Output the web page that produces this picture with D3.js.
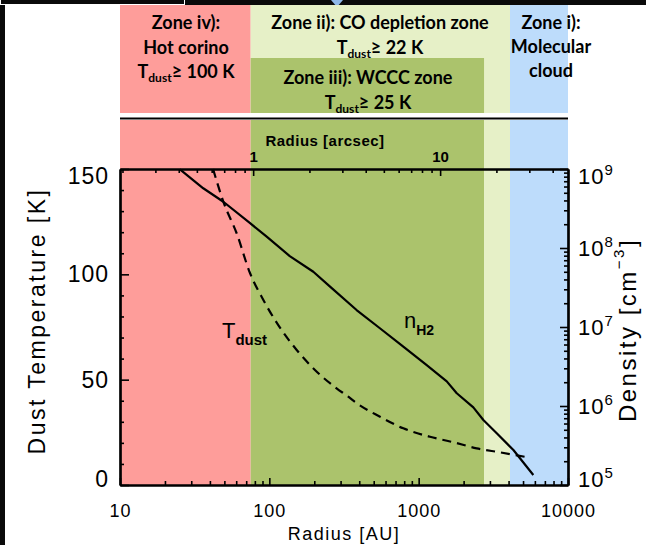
<!DOCTYPE html>
<html>
<head>
<meta charset="utf-8">
<script src="https://cdn.jsdelivr.net/npm/d3@7"></script>
<style>
    body { margin: 0; background: #fff; }
    svg { display: block; }
    .zone-txt { font-family: Lato, "Open Sans", sans-serif; font-weight: 700; font-size: 18px; fill: #000; }
    .ax text { font-family: "Liberation Sans", Arial, sans-serif; fill: #000; }
</style>
</head>
<body>
<svg id="chart" width="646" height="545"></svg>
<script>

// radius in AU where the zones change (plot edge, iv|iii, iii|ii, ii|i, plot edge)
var zoneEdges = [10, 75, 2740, 4090, 10000]

// density profile n_H2 [cm^-3]
var radiusN = [25.2, 36.1, 49.2, 74.3, 96, 137, 197, 255, 384, 550, 789, 1132, 1542, 1799, 2323, 2711, 3333, 4309, 5858]
var densityN = [9.9e8, 5.7e8, 3.85e8, 2.06e8, 1.39e8, 7.9e7, 5.01e7, 3.24e7, 1.64e7, 9.64e6, 5.64e6, 3.30e6, 2.05e6, 1.45e6, 9.6e5, 6.65e5, 4.51e5, 2.77e5, 1.34e5]

// dust temperature profile [K]
var radiusT = [42, 49.2, 60.4, 74.3, 91.2, 114.8, 152.5, 202, 282, 338, 385, 551, 789, 1191, 1706, 2447, 3508, 5420]
var tempT = [150, 134.5, 119.5, 100.5, 87.8, 75.9, 64.1, 54.6, 45.9, 41.9, 38.8, 32.4, 26.9, 22.9, 20.3, 17.4, 15.5, 13.1]

var xDomain = [10, 10000]
var tDomain = [0, 150]
var nDomain = [1e5, 1e9]
var arcsecDomain = [0.194, 48.3]

var xMajor = [10, 100, 1000, 10000]
var tMajor = [0, 50, 100, 150]
var arcsecMajor = [1, 10]

var zoneLabels = {
    iv: ["Zone iv):", "Hot corino", ["100 K"]],
    ii: ["Zone ii): CO depletion zone", ["22 K"]],
    iii: ["Zone iii): WCCC zone", ["25 K"]],
    i: ["Zone i):", "Molecular", "cloud"]
}

var svg = d3.select("#chart")

// plot box (note: "top" is reserved on window, so use p* names)
var pL = 120, pR = 568, pT = 169, pB = 485

var x = d3.scaleLog().domain(xDomain).range([pL, pR])
var xTop = d3.scaleLog().domain(arcsecDomain).range([pL, pR])
var yT = d3.scaleLinear().domain(tDomain).range([pB, pT])
var yN = d3.scaleLog().domain(nDomain).range([pB, pT])

var red = "#fe9d9a", green = "#abc36c", pale = "#e6f0c7", blue = "#bddcfb"

// screen frame bits at the edge of the picture
svg.append("rect").attr("x", 0).attr("y", 0).attr("width", 646).attr("height", 5).attr("fill", "#0a0a0a")
svg.append("rect").attr("x", 0).attr("y", 0).attr("width", 5).attr("height", 545).attr("fill", "#0a0a0a")
svg.append("rect").attr("x", 0.5).attr("y", -1).attr("width", 184).attr("height", 5.5)
    .attr("fill", "none").attr("stroke", "#fff").attr("stroke-width", 1)
svg.append("path").attr("d", "M331,0 L343,0 L337,7 Z").attr("fill", "#8fb8e8")

// top panel with zone labels
function drawZonePanel() {
    var g = svg.append("g")
    var y0 = 5, y1 = 113, yMid = 58

    g.append("rect").attr("x", x(zoneEdges[0])).attr("y", y0)
        .attr("width", x(zoneEdges[1]) - x(zoneEdges[0])).attr("height", y1 - y0).attr("fill", red)
    g.append("rect").attr("x", x(zoneEdges[1])).attr("y", y0)
        .attr("width", x(zoneEdges[3]) - x(zoneEdges[1])).attr("height", y1 - y0).attr("fill", pale)
    g.append("rect").attr("x", x(zoneEdges[1])).attr("y", yMid)
        .attr("width", x(zoneEdges[2]) - x(zoneEdges[1])).attr("height", y1 - yMid).attr("fill", green)
    g.append("rect").attr("x", x(zoneEdges[3])).attr("y", y0)
        .attr("width", x(zoneEdges[4]) - x(zoneEdges[3])).attr("height", y1 - y0).attr("fill", blue)

    function label(lines, cx, y, step) {
        lines.forEach(function(l, i) {
            var t = g.append("text").attr("class", "zone-txt")
                .attr("x", cx).attr("y", y + i * step).attr("text-anchor", "middle")
            if (Array.isArray(l)) {
                t.append("tspan").text("T")
                t.append("tspan").attr("font-size", "12px").attr("dy", 4).text("dust")
                t.append("tspan").attr("dy", -4).text("\u2265 " + l[0])
            } else {
                t.text(l)
            }
        })
    }

    label(zoneLabels.iv, 186, 29, 24.5)
    label(zoneLabels.ii, 380, 29, 24.5)
    label(zoneLabels.iii, 368, 84, 24.5)
    label(zoneLabels.i, 551, 29, 24)

    svg.append("line").attr("x1", pL).attr("x2", pR).attr("y1", 118.5).attr("y2", 118.5)
        .attr("stroke", "#000").attr("stroke-width", 2)
}

// coloured bands behind the plot
function drawBands() {
    var cols = [red, green, pale, blue]
    svg.append("g").selectAll("rect")
        .data(d3.pairs(zoneEdges))
        .enter().append("rect")
        .attr("x", function(d) { return x(d[0]) })
        .attr("width", function(d) { return x(d[1]) - x(d[0]) })
        .attr("y", 120)
        .attr("height", pB - 120)
        .attr("fill", function(d, i) { return cols[i] })
}

function isDecade(v) {
    return Math.abs(Math.log10(v) - Math.round(Math.log10(v))) < 1e-6
}

// IDL pulls the end labels of a vertical axis a little inside the box
function nudgeEnds(sel) {
    var n = sel.size()
    sel.attr("y", function(d, i) {
        if (i == 0) return -6
        if (i == n - 1) return 7
        return 0
    })
}

function drawAxes() {

    // bottom: radius in AU, ticks inward
    var bx = svg.append("g").attr("class", "ax").attr("transform", "translate(0," + pB + ")")
    bx.call(d3.axisBottom(x).tickValues(x.ticks().filter(function(d) { return !isDecade(d) }))
        .tickSizeInner(-4).tickSizeOuter(0).tickFormat(""))
    bx.append("g").call(d3.axisBottom(x).tickValues(xMajor).tickSizeInner(-7).tickSizeOuter(0)
        .tickPadding(19).tickFormat(d3.format("d")))
    bx.selectAll("text").attr("font-size", "18px").attr("letter-spacing", "1px")

    // top: radius in arcsec
    var tx = svg.append("g").attr("class", "ax").attr("transform", "translate(0," + pT + ")")
    tx.call(d3.axisTop(xTop).tickValues(xTop.ticks().filter(function(d) { return !isDecade(d) }))
        .tickSizeInner(-4).tickSizeOuter(0).tickFormat(""))
    tx.append("g").call(d3.axisTop(xTop).tickValues(arcsecMajor).tickSizeInner(-7).tickSizeOuter(0)
        .tickPadding(7).tickFormat(d3.format("d")))
    tx.selectAll("text").attr("font-size", "15px").attr("font-weight", "bold")
    tx.append("text").attr("x", 325).attr("y", -23).attr("text-anchor", "middle")
        .attr("font-size", "15px").attr("font-weight", "bold").attr("letter-spacing", "0.5px")
        .text("Radius [arcsec]")

    // left: dust temperature
    var ly = svg.append("g").attr("class", "ax").attr("transform", "translate(" + pL + ",0)")
    ly.call(d3.axisLeft(yT).tickValues(yT.ticks(15).filter(function(d) { return tMajor.indexOf(d) < 0 }))
        .tickSizeInner(-4).tickSizeOuter(0).tickFormat(""))
    var lmaj = ly.append("g").call(d3.axisLeft(yT).tickValues(tMajor).tickSizeInner(-9).tickSizeOuter(0)
        .tickPadding(11))
    ly.selectAll("text").attr("font-size", "23px").attr("letter-spacing", "1px")
    nudgeEnds(lmaj.selectAll(".tick text"))

    // right: density
    var ry = svg.append("g").attr("class", "ax").attr("transform", "translate(" + pR + ",0)")
    ry.call(d3.axisRight(yN).tickValues(yN.ticks().filter(function(d) { return !isDecade(d) }))
        .tickSizeInner(-4).tickSizeOuter(0).tickFormat(""))
    var maj = ry.append("g").call(d3.axisRight(yN).tickValues(yN.ticks().filter(isDecade))
        .tickSizeInner(-8).tickSizeOuter(0).tickPadding(10).tickFormat(""))
    maj.selectAll(".tick text").each(function(d) {
        var t = d3.select(this).attr("font-size", "22px").attr("letter-spacing", "1px")
        t.append("tspan").text("10")
        t.append("tspan").attr("font-size", "15px").attr("dy", "-0.6em").text(Math.round(Math.log10(d)))
    })
    nudgeEnds(maj.selectAll(".tick text"))

    svg.selectAll(".ax path.domain, .ax line").attr("stroke", "#000")
    svg.selectAll(".ax path.domain").attr("stroke-width", 2.2)
    svg.selectAll(".ax .tick line").attr("stroke-width", 1.6)

    // titles
    svg.append("text")
        .attr("transform", "translate(45,321) rotate(-90)")
        .attr("text-anchor", "middle").attr("font-family", "Liberation Sans, Arial, sans-serif")
        .attr("font-size", "23px").attr("letter-spacing", "2.5px").text("Dust Temperature [K]")

    svg.append("text")
        .attr("x", 344).attr("y", 540).attr("text-anchor", "middle")
        .attr("font-family", "Liberation Sans, Arial, sans-serif")
        .attr("font-size", "18px").attr("letter-spacing", "1.5px").text("Radius [AU]")

    var rt = svg.append("text")
        .attr("transform", "translate(636,330) rotate(-90)")
        .attr("text-anchor", "middle").attr("font-family", "Liberation Sans, Arial, sans-serif")
        .attr("font-size", "24px").attr("letter-spacing", "2.5px")
    rt.append("tspan").text("Density [cm")
    rt.append("tspan").attr("font-size", "15px").attr("dy", "-0.8em").text("\u22123")
    rt.append("tspan").attr("dy", "0.5em").text("]")
}

function drawCurves() {
    var solid = d3.line()
        .x(function(d) { return x(d[0]) })
        .y(function(d) { return yN(d[1]) })

    var dashed = d3.line()
        .curve(d3.curveMonotoneX)
        .x(function(d) { return x(d[0]) })
        .y(function(d) { return yT(d[1]) })

    svg.append("path")
        .datum(d3.zip(radiusN, densityN))
        .attr("d", solid)
        .attr("fill", "none").attr("stroke", "#000").attr("stroke-width", 2.2)
        .attr("stroke-linejoin", "round")

    svg.append("path")
        .datum(d3.zip(radiusT, tempT))
        .attr("d", dashed)
        .attr("fill", "none").attr("stroke", "#000").attr("stroke-width", 2.2)
        .attr("stroke-dasharray", "9,6")

    var tl = svg.append("text").attr("x", 222).attr("y", 338)
        .attr("font-family", "Liberation Sans, Arial, sans-serif").attr("font-size", "22px")
    tl.append("tspan").text("T")
    tl.append("tspan").attr("font-size", "15px").attr("font-weight", "bold").attr("dy", 7).text("dust")

    var nl = svg.append("text").attr("x", 404).attr("y", 328)
        .attr("font-family", "Liberation Sans, Arial, sans-serif").attr("font-size", "22px")
    nl.append("tspan").text("n")
    nl.append("tspan").attr("font-size", "14px").attr("font-weight", "bold").attr("dy", 7).text("H2")
}

drawZonePanel()
drawBands()
drawCurves()
drawAxes()

</script>
</body>
</html>
